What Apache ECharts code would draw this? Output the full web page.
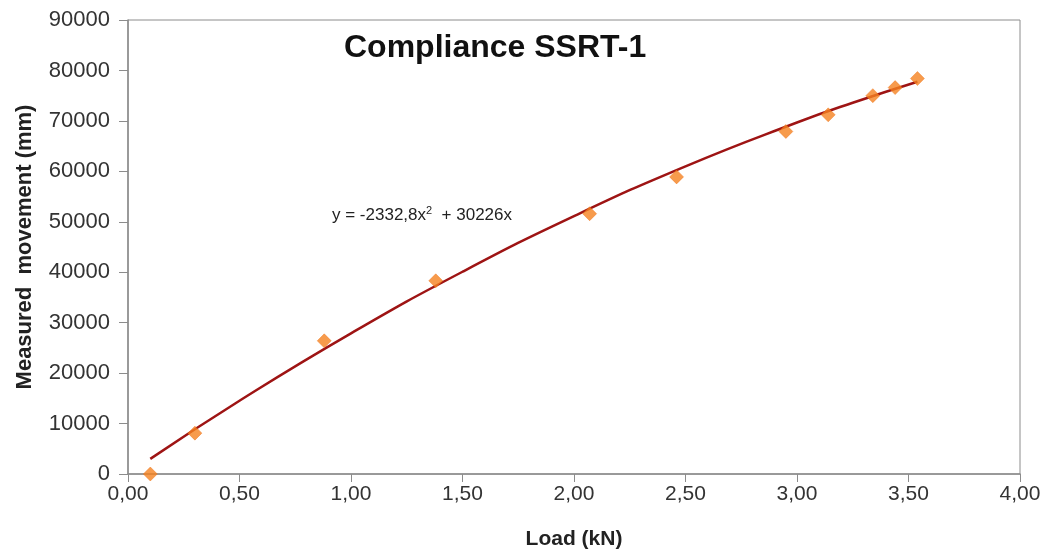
<!DOCTYPE html>
<html><head><meta charset="utf-8">
<script src="https://cdn.jsdelivr.net/npm/echarts@6/dist/echarts.min.js"></script>
<style>html,body{margin:0;padding:0;background:#fff}#c{width:1049px;height:557px}</style>
</head><body><div id="c"></div>
<script>
// measured points: load (kN), movement (mm)
const loadKN = [0.10, 0.30, 0.88, 1.38, 2.07, 2.46, 2.95, 3.14, 3.34, 3.44, 3.54];
const movement = [0, 8100, 26400, 38300, 51600, 58900, 67900, 71200, 75000, 76600, 78400];
// trendline (poly fit shown in chart)
const trendX = [0.10, 0.50, 1.00, 1.50, 2.00, 2.50, 3.00, 3.25, 3.54];
const trendY = [3000, 14530, 27890, 40090, 51120, 60990, 69680, 73600, 77770];
const xTicks = ['0,00','0,50','1,00','1,50','2,00','2,50','3,00','3,50','4,00'];

const chart = echarts.init(document.getElementById('c'));
const font = 'Liberation Sans, Arial, sans-serif';
chart.setOption({
  animation: false,
  grid: {left: 128, right: 29, top: 20, bottom: 83, show: true, borderColor: '#8c8c8c', borderWidth: 1},
  title: {text: 'Compliance SSRT-1', left: 339, top: 27,
    textStyle: {fontFamily: font, fontSize: 32, fontWeight: 'bold', color: '#111'}},
  xAxis: {type: 'value', min: 0, max: 4, interval: 0.5,
    name: 'Load (kN)', nameLocation: 'middle', nameGap: 55,
    nameTextStyle: {fontFamily: font, fontSize: 21, fontWeight: 'bold', color: '#222'},
    axisLine: {lineStyle: {color: '#8c8c8c', width: 1.5}},
    axisTick: {show: true, length: 8, lineStyle: {color: '#8c8c8c'}},
    splitLine: {show: false},
    axisLabel: {fontFamily: font, fontSize: 21, color: '#333', margin: 10,
      formatter: v => xTicks[Math.round(v / 0.5)]}},
  yAxis: {type: 'value', min: 0, max: 90000, interval: 10000,
    name: 'Measured  movement (mm)', nameLocation: 'middle', nameGap: 92,
    nameTextStyle: {fontFamily: font, fontSize: 22, fontWeight: 'bold', color: '#222'},
    axisLine: {show: true, lineStyle: {color: '#8c8c8c', width: 1.5}},
    axisTick: {show: true, length: 9, lineStyle: {color: '#8c8c8c'}},
    splitLine: {show: false},
    axisLabel: {fontFamily: font, fontSize: 22, color: '#333', margin: 18,
      formatter: v => String(v)}},
  series: [
    {type: 'line', data: trendX.map((x, i) => [x, trendY[i]]), smooth: true,
      showSymbol: false, lineStyle: {color: '#9e1414', width: 2.5}, z: 2},
    {type: 'scatter', data: loadKN.map((x, i) => [x, movement[i]]),
      symbol: 'diamond', symbolSize: 14,
      itemStyle: {color: '#f5821f', borderColor: '#ee6c10', borderWidth: 0.5}, z: 3}
  ],
  graphic: [{type: 'text', left: 332, top: 205,
    style: {text: '{a|y = -2332,8x}{s|2}{a|  + 30226x}',
      rich: {a: {fontFamily: font, fontSize: 17, fill: '#222'},
             s: {fontFamily: font, fontSize: 11, fill: '#222', verticalAlign: 'top', padding: [0,0,9,0]}}}}]
});
</script></body></html>
